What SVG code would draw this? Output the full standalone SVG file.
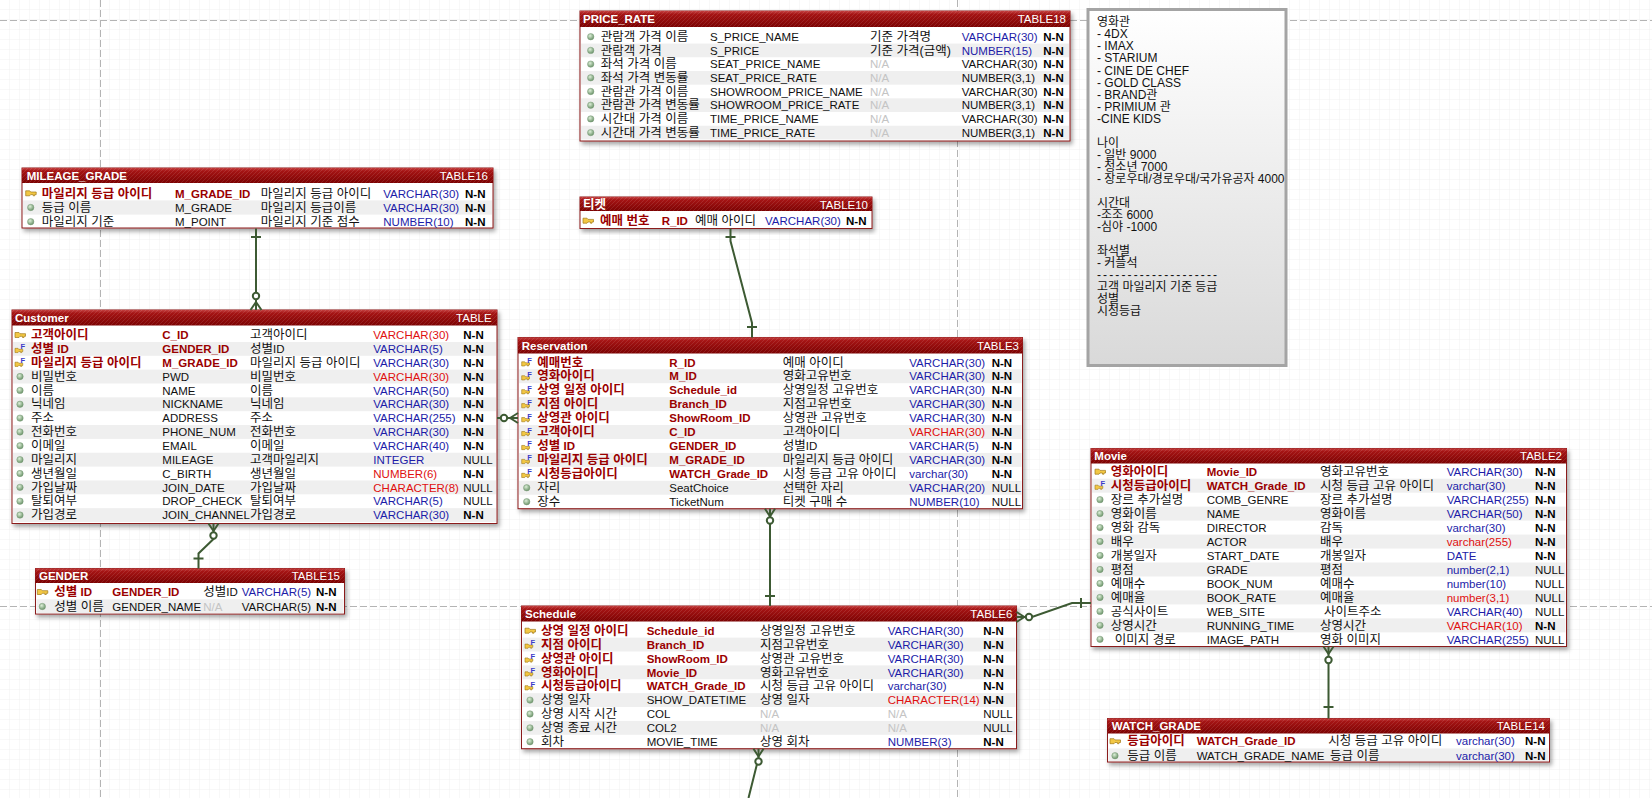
<svg xmlns="http://www.w3.org/2000/svg" width="1652" height="798" viewBox="0 0 1652 798">
<style>
text { font-family: "Liberation Sans", "Noto Sans CJK KR", sans-serif; font-size: 11.5px; fill: #111; }
.h { font-size: 12.5px; }
.ttl { font-weight: bold; fill: #fff; }
.tno { fill: #fff; text-anchor: end; }
.k { font-weight: bold; fill: #9a0000; }
.b { fill: #1c1ca8; }
.r { fill: #e01010; }
.na { fill: #c4c4c4; }
.nn { font-weight: bold; fill: #000; }
.fkf { font-size: 7.5px; font-weight: bold; fill: #3a3ac8; }
.body { fill: #fff; stroke: #8b1a1a; stroke-width: 1; }
.hdr { fill: url(#hg); }
.hatch { fill: url(#hp); }
.alt { fill: #efefef; }
.note { font-size: 12px; fill: #111; }
.dash { fill: none; stroke: #b4b4b4; stroke-width: 1; stroke-dasharray: 7 3; }
</style>
<defs>
  <pattern id="grid" width="10" height="10" patternUnits="userSpaceOnUse">
    <path d="M10,0 V10 H0" fill="none" stroke="#f1f1f1" stroke-width="1"/>
  </pattern>
  <pattern id="hp" width="4" height="4" patternUnits="userSpaceOnUse">
    <path d="M0,4 L4,0" stroke="#ffffff" stroke-opacity="0.10" stroke-width="1"/>
  </pattern>
  <linearGradient id="hg" x1="0" y1="0" x2="0" y2="1">
    <stop offset="0" stop-color="#c44040"/>
    <stop offset="0.2" stop-color="#a51414"/>
    <stop offset="1" stop-color="#7c0202"/>
  </linearGradient>
  <linearGradient id="ng" x1="0" y1="0" x2="0" y2="1">
    <stop offset="0" stop-color="#ffffff"/>
    <stop offset="1" stop-color="#d9d9d9"/>
  </linearGradient>
  <radialGradient id="dg" cx="40%" cy="35%" r="65%">
    <stop offset="0" stop-color="#dcefd8"/>
    <stop offset="1" stop-color="#6c946a"/>
  </radialGradient>
  <filter id="sh" x="-5%" y="-5%" width="115%" height="125%">
    <feDropShadow dx="2" dy="3" stdDeviation="2" flood-color="#000" flood-opacity="0.35"/>
  </filter>
  <!-- primary key icon -->
  <g id="pk">
    <path d="M-5,-2.5 h4 l1,1.2 h5.5 v2.6 h-1.5 v1.2 h-1.5 v-1.2 h-2.5 l-1,1.2 h-4 z" fill="#f2c744" stroke="#a07818" stroke-width="0.7"/>
  </g>
  <!-- foreign key icon -->
  <g id="fk">
    <path d="M-5,-0.5 h3 l0.8,1 h4 v2.2 h-1 v1 h-1.2 v-1 h-1.8 l-0.8,1 h-3 z" fill="#f2c744" stroke="#a07818" stroke-width="0.6"/>
    <text class="fkf" x="0.5" y="0.5">F</text>
  </g>
  <!-- plain column icon -->
  <circle id="dot" r="3.2" fill="url(#dg)" stroke="#7a9a78" stroke-width="0.5"/>
</defs>

<!-- canvas -->
<rect width="1652" height="798" fill="#fff"/>
<rect width="1652" height="798" fill="url(#grid)"/>
<g id="page-breaks">
  <path class="dash" d="M0,20.5 H1652"/>
  <path class="dash" d="M0,606.5 H1652"/>
  <path class="dash" d="M100.5,0 V798"/>
  <path class="dash" d="M957.5,0 V798"/>
</g>

<!-- PRICE_RATE -->
<g id="price_rate">
  <rect class="body" x="580" y="11" width="490" height="130" filter="url(#sh)"/>
  <rect class="alt" x="581" y="43.55" width="488" height="13.7"/>
  <rect class="alt" x="581" y="70.95" width="488" height="13.7"/>
  <rect class="alt" x="581" y="98.35" width="488" height="13.7"/>
  <rect class="alt" x="581" y="125.75" width="488" height="13.7"/>
  <rect class="hdr" x="580" y="11" width="490" height="16"/>
  <rect class="hatch" x="580" y="11" width="490" height="16"/>
  <text class="ttl" x="583" y="23">PRICE_RATE</text>
  <text class="tno" x="1066" y="23">TABLE18</text>
  <use href="#dot" x="590.7" y="36.7"/><use href="#dot" x="590.7" y="50.4"/><use href="#dot" x="590.7" y="64.1"/><use href="#dot" x="590.7" y="77.8"/>
  <use href="#dot" x="590.7" y="91.5"/><use href="#dot" x="590.7" y="105.2"/><use href="#dot" x="590.7" y="118.9"/><use href="#dot" x="590.7" y="132.6"/>
  <text class="h" x="600.7" y="40.9">관람객 가격 이름</text><text x="710" y="40.9">S_PRICE_NAME</text><text class="h" x="870" y="40.9">기준 가격명</text><text class="b" x="961.7" y="40.9">VARCHAR(30)</text><text class="nn" x="1043.3" y="40.9">N-N</text>
  <text class="h" x="600.7" y="54.6">관람객 가격</text><text x="710" y="54.6">S_PRICE</text><text class="h" x="870" y="54.6">기준 가격(금액)</text><text class="b" x="961.7" y="54.6">NUMBER(15)</text><text class="nn" x="1043.3" y="54.6">N-N</text>
  <text class="h" x="600.7" y="68.3">좌석 가격 이름</text><text x="710" y="68.3">SEAT_PRICE_NAME</text><text class="na" x="870" y="68.3">N/A</text><text x="961.7" y="68.3">VARCHAR(30)</text><text class="nn" x="1043.3" y="68.3">N-N</text>
  <text class="h" x="600.7" y="82">좌석 가격 변동률</text><text x="710" y="82">SEAT_PRICE_RATE</text><text class="na" x="870" y="82">N/A</text><text x="961.7" y="82">NUMBER(3,1)</text><text class="nn" x="1043.3" y="82">N-N</text>
  <text class="h" x="600.7" y="95.7">관람관 가격 이름</text><text x="710" y="95.7">SHOWROOM_PRICE_NAME</text><text class="na" x="870" y="95.7">N/A</text><text x="961.7" y="95.7">VARCHAR(30)</text><text class="nn" x="1043.3" y="95.7">N-N</text>
  <text class="h" x="600.7" y="109.4">관람관 가격 변동률</text><text x="710" y="109.4">SHOWROOM_PRICE_RATE</text><text class="na" x="870" y="109.4">N/A</text><text x="961.7" y="109.4">NUMBER(3,1)</text><text class="nn" x="1043.3" y="109.4">N-N</text>
  <text class="h" x="600.7" y="123.1">시간대 가격 이름</text><text x="710" y="123.1">TIME_PRICE_NAME</text><text class="na" x="870" y="123.1">N/A</text><text x="961.7" y="123.1">VARCHAR(30)</text><text class="nn" x="1043.3" y="123.1">N-N</text>
  <text class="h" x="600.7" y="136.8">시간대 가격 변동률</text><text x="710" y="136.8">TIME_PRICE_RATE</text><text class="na" x="870" y="136.8">N/A</text><text x="961.7" y="136.8">NUMBER(3,1)</text><text class="nn" x="1043.3" y="136.8">N-N</text>
</g>

<!-- memo -->
<g id="note">
  <rect x="1088" y="9.5" width="198" height="356" fill="url(#ng)" stroke="#a4a4a4" stroke-width="3"/>
  <text class="note" x="1097" y="26.3">영화관</text>
  <text class="note" x="1097" y="38.3">- 4DX</text>
  <text class="note" x="1097" y="50.4">- IMAX</text>
  <text class="note" x="1097" y="62.4">- STARIUM</text>
  <text class="note" x="1097" y="74.5">- CINE DE CHEF</text>
  <text class="note" x="1097" y="86.5">- GOLD CLASS</text>
  <text class="note" x="1097" y="98.5">- BRAND관</text>
  <text class="note" x="1097" y="110.6">- PRIMIUM 관</text>
  <text class="note" x="1097" y="122.6">-CINE KIDS</text>
  <text class="note" x="1097" y="146.7">나이</text>
  <text class="note" x="1097" y="158.7">- 일반 9000</text>
  <text class="note" x="1097" y="170.8">- 청소년 7000</text>
  <text class="note" x="1097" y="182.8">- 장로우대/경로우대/국가유공자 4000</text>
  <text class="note" x="1097" y="206.9">시간대</text>
  <text class="note" x="1097" y="218.9">-조조 6000</text>
  <text class="note" x="1097" y="231">-심야 -1000</text>
  <text class="note" x="1097" y="255.1">좌석별</text>
  <text class="note" x="1097" y="267.1">- 커플석</text>
  <text class="note" x="1097" y="279.1" textLength="120" lengthAdjust="spacing">--------------------</text>
  <text class="note" x="1097" y="291.2">고객 마일리지 기준 등급</text>
  <text class="note" x="1097" y="303.2">성별</text>
  <text class="note" x="1097" y="315.3">시청등급</text>
</g>

<!-- MILEAGE_GRADE -->
<g id="mileage_grade">
  <rect class="body" x="22" y="168" width="471" height="60" filter="url(#sh)"/>
  <rect class="alt" x="23" y="200.4" width="469" height="14.2"/>
  <rect class="hdr" x="22" y="168" width="471" height="15"/>
  <rect class="hatch" x="22" y="168" width="471" height="15"/>
  <text class="ttl" x="26.7" y="180">MILEAGE_GRADE</text>
  <text class="tno" x="488" y="180">TABLE16</text>
  <use href="#pk" x="30.7" y="193.3"/><use href="#dot" x="30.7" y="207.5"/><use href="#dot" x="30.7" y="221.7"/>
  <text class="k h" x="41.7" y="197.5">마일리지 등급 아이디</text><text class="k" x="175" y="197.5">M_GRADE_ID</text><text class="h" x="260.7" y="197.5">마일리지 등급 아이디</text><text class="b" x="383.3" y="197.5">VARCHAR(30)</text><text class="nn" x="465" y="197.5">N-N</text>
  <text class="h" x="41.7" y="211.7">등급 이름</text><text x="175" y="211.7">M_GRADE</text><text class="h" x="260.7" y="211.7">마일리지 등급이름</text><text class="b" x="383.3" y="211.7">VARCHAR(30)</text><text class="nn" x="465" y="211.7">N-N</text>
  <text class="h" x="41.7" y="225.9">마일리지 기준</text><text x="175" y="225.9">M_POINT</text><text class="h" x="260.7" y="225.9">마일리지 기준 점수</text><text class="b" x="383.3" y="225.9">NUMBER(10)</text><text class="nn" x="465" y="225.9">N-N</text>
</g>

<!-- 티켓 -->
<g id="ticket">
  <rect class="body" x="580" y="197" width="292" height="31.5" filter="url(#sh)"/>
  <rect class="hdr" x="580" y="197" width="292" height="14"/>
  <rect class="hatch" x="580" y="197" width="292" height="14"/>
  <text class="ttl h" x="583" y="208.5">티켓</text>
  <text class="tno" x="868" y="208.5">TABLE10</text>
  <use href="#pk" x="588" y="220.7"/>
  <text class="k h" x="600" y="224.9">예매 번호</text><text class="k" x="661.7" y="224.9">R_ID</text><text class="h" x="695" y="224.9">예매 아이디</text><text class="b" x="765" y="224.9">VARCHAR(30)</text><text class="nn" x="846" y="224.9">N-N</text>
</g>

<!-- Customer -->
<g id="customer">
  <rect class="body" x="12" y="310" width="485" height="213.5" filter="url(#sh)"/>
  <rect class="alt" x="13" y="341.95" width="483" height="13.85"/>
  <rect class="alt" x="13" y="369.65" width="483" height="13.85"/>
  <rect class="alt" x="13" y="397.35" width="483" height="13.85"/>
  <rect class="alt" x="13" y="425.05" width="483" height="13.85"/>
  <rect class="alt" x="13" y="452.75" width="483" height="13.85"/>
  <rect class="alt" x="13" y="480.45" width="483" height="13.85"/>
  <rect class="alt" x="13" y="508.15" width="483" height="13.85"/>
  <rect class="hdr" x="12" y="310" width="485" height="15.5"/>
  <rect class="hatch" x="12" y="310" width="485" height="15.5"/>
  <text class="ttl" x="15" y="322">Customer</text>
  <text class="tno" x="491.7" y="322">TABLE</text>
  <use href="#pk" x="20" y="335"/><use href="#fk" x="20" y="348.85"/><use href="#fk" x="20" y="362.7"/>
  <use href="#dot" x="20" y="376.55"/><use href="#dot" x="20" y="390.4"/><use href="#dot" x="20" y="404.25"/><use href="#dot" x="20" y="418.1"/>
  <use href="#dot" x="20" y="431.95"/><use href="#dot" x="20" y="445.8"/><use href="#dot" x="20" y="459.65"/><use href="#dot" x="20" y="473.5"/>
  <use href="#dot" x="20" y="487.35"/><use href="#dot" x="20" y="501.2"/><use href="#dot" x="20" y="515.05"/>
  <text class="k h" x="31" y="339.2">고객아이디</text><text class="k" x="162.3" y="339.2">C_ID</text><text class="h" x="250" y="339.2">고객아이디</text><text class="r" x="373.3" y="339.2">VARCHAR(30)</text><text class="nn" x="463.3" y="339.2">N-N</text>
  <text class="k" x="31" y="353.05"><tspan class="h">성별</tspan> ID</text><text class="k" x="162.3" y="353.05">GENDER_ID</text><text x="250" y="353.05"><tspan class="h">성별</tspan>ID</text><text class="b" x="373.3" y="353.05">VARCHAR(5)</text><text class="nn" x="463.3" y="353.05">N-N</text>
  <text class="k h" x="31" y="366.9">마일리지 등급 아이디</text><text class="k" x="162.3" y="366.9">M_GRADE_ID</text><text class="h" x="250" y="366.9">마일리지 등급 아이디</text><text class="b" x="373.3" y="366.9">VARCHAR(30)</text><text class="nn" x="463.3" y="366.9">N-N</text>
  <text class="h" x="31" y="380.75">비밀번호</text><text x="162.3" y="380.75">PWD</text><text class="h" x="250" y="380.75">비밀번호</text><text class="r" x="373.3" y="380.75">VARCHAR(30)</text><text class="nn" x="463.3" y="380.75">N-N</text>
  <text class="h" x="31" y="394.6">이름</text><text x="162.3" y="394.6">NAME</text><text class="h" x="250" y="394.6">이름</text><text class="b" x="373.3" y="394.6">VARCHAR(50)</text><text class="nn" x="463.3" y="394.6">N-N</text>
  <text class="h" x="31" y="408.45">닉네임</text><text x="162.3" y="408.45">NICKNAME</text><text class="h" x="250" y="408.45">닉네임</text><text class="b" x="373.3" y="408.45">VARCHAR(30)</text><text class="nn" x="463.3" y="408.45">N-N</text>
  <text class="h" x="31" y="422.3">주소</text><text x="162.3" y="422.3">ADDRESS</text><text class="h" x="250" y="422.3">주소</text><text class="b" x="373.3" y="422.3">VARCHAR(255)</text><text class="nn" x="463.3" y="422.3">N-N</text>
  <text class="h" x="31" y="436.15">전화번호</text><text x="162.3" y="436.15">PHONE_NUM</text><text class="h" x="250" y="436.15">전화번호</text><text class="b" x="373.3" y="436.15">VARCHAR(30)</text><text class="nn" x="463.3" y="436.15">N-N</text>
  <text class="h" x="31" y="450">이메일</text><text x="162.3" y="450">EMAIL</text><text class="h" x="250" y="450">이메일</text><text class="b" x="373.3" y="450">VARCHAR(40)</text><text class="nn" x="463.3" y="450">N-N</text>
  <text class="h" x="31" y="463.85">마일리지</text><text x="162.3" y="463.85">MILEAGE</text><text class="h" x="250" y="463.85">고객마일리지</text><text class="b" x="373.3" y="463.85">INTEGER</text><text x="463.3" y="463.85">NULL</text>
  <text class="h" x="31" y="477.7">생년월일</text><text x="162.3" y="477.7">C_BIRTH</text><text class="h" x="250" y="477.7">생년월일</text><text class="r" x="373.3" y="477.7">NUMBER(6)</text><text class="nn" x="463.3" y="477.7">N-N</text>
  <text class="h" x="31" y="491.55">가입날짜</text><text x="162.3" y="491.55">JOIN_DATE</text><text class="h" x="250" y="491.55">가입날짜</text><text class="r" x="373.3" y="491.55">CHARACTER(8)</text><text x="463.3" y="491.55">NULL</text>
  <text class="h" x="31" y="505.4">탈퇴여부</text><text x="162.3" y="505.4">DROP_CHECK</text><text class="h" x="250" y="505.4">탈퇴여부</text><text class="b" x="373.3" y="505.4">VARCHAR(5)</text><text x="463.3" y="505.4">NULL</text>
  <text class="h" x="31" y="519.25">가입경로</text><text x="162.3" y="519.25">JOIN_CHANNEL</text><text class="h" x="250" y="519.25">가입경로</text><text class="b" x="373.3" y="519.25">VARCHAR(30)</text><text class="nn" x="463.3" y="519.25">N-N</text>
</g>

<!-- Reservation -->
<g id="reservation">
  <rect class="body" x="518" y="337.5" width="504.5" height="171.2" filter="url(#sh)"/>
  <rect class="alt" x="519" y="369.27" width="502.5" height="13.94"/>
  <rect class="alt" x="519" y="397.15" width="502.5" height="13.94"/>
  <rect class="alt" x="519" y="425.03" width="502.5" height="13.94"/>
  <rect class="alt" x="519" y="452.91" width="502.5" height="13.94"/>
  <rect class="alt" x="519" y="480.79" width="502.5" height="13.94"/>
  <rect class="hdr" x="518" y="337.5" width="504.5" height="16"/>
  <rect class="hatch" x="518" y="337.5" width="504.5" height="16"/>
  <text class="ttl" x="521.7" y="349.5">Reservation</text>
  <text class="tno" x="1019" y="349.5">TABLE3</text>
  <use href="#fk" x="526.7" y="362.3"/><use href="#fk" x="526.7" y="376.24"/><use href="#fk" x="526.7" y="390.18"/><use href="#fk" x="526.7" y="404.12"/>
  <use href="#fk" x="526.7" y="418.06"/><use href="#fk" x="526.7" y="432"/><use href="#fk" x="526.7" y="445.94"/><use href="#fk" x="526.7" y="459.88"/>
  <use href="#fk" x="526.7" y="473.82"/><use href="#dot" x="526.7" y="487.76"/><use href="#dot" x="526.7" y="501.7"/>
  <text class="k h" x="537.3" y="366.5">예매번호</text><text class="k" x="669.3" y="366.5">R_ID</text><text class="h" x="782.7" y="366.5">예매 아이디</text><text class="b" x="909.3" y="366.5">VARCHAR(30)</text><text class="nn" x="991.7" y="366.5">N-N</text>
  <text class="k h" x="537.3" y="380.44">영화아이디</text><text class="k" x="669.3" y="380.44">M_ID</text><text class="h" x="782.7" y="380.44">영화고유번호</text><text class="b" x="909.3" y="380.44">VARCHAR(30)</text><text class="nn" x="991.7" y="380.44">N-N</text>
  <text class="k h" x="537.3" y="394.38">상영 일정 아이디</text><text class="k" x="669.3" y="394.38">Schedule_id</text><text class="h" x="782.7" y="394.38">상영일정 고유번호</text><text class="b" x="909.3" y="394.38">VARCHAR(30)</text><text class="nn" x="991.7" y="394.38">N-N</text>
  <text class="k h" x="537.3" y="408.32">지점 아이디</text><text class="k" x="669.3" y="408.32">Branch_ID</text><text class="h" x="782.7" y="408.32">지점고유번호</text><text class="b" x="909.3" y="408.32">VARCHAR(30)</text><text class="nn" x="991.7" y="408.32">N-N</text>
  <text class="k h" x="537.3" y="422.26">상영관 아이디</text><text class="k" x="669.3" y="422.26">ShowRoom_ID</text><text class="h" x="782.7" y="422.26">상영관 고유번호</text><text class="b" x="909.3" y="422.26">VARCHAR(30)</text><text class="nn" x="991.7" y="422.26">N-N</text>
  <text class="k h" x="537.3" y="436.2">고객아이디</text><text class="k" x="669.3" y="436.2">C_ID</text><text class="h" x="782.7" y="436.2">고객아이디</text><text class="r" x="909.3" y="436.2">VARCHAR(30)</text><text class="nn" x="991.7" y="436.2">N-N</text>
  <text class="k" x="537.3" y="450.14"><tspan class="h">성별</tspan> ID</text><text class="k" x="669.3" y="450.14">GENDER_ID</text><text x="782.7" y="450.14"><tspan class="h">성별</tspan>ID</text><text class="b" x="909.3" y="450.14">VARCHAR(5)</text><text class="nn" x="991.7" y="450.14">N-N</text>
  <text class="k h" x="537.3" y="464.08">마일리지 등급 아이디</text><text class="k" x="669.3" y="464.08">M_GRADE_ID</text><text class="h" x="782.7" y="464.08">마일리지 등급 아이디</text><text class="b" x="909.3" y="464.08">VARCHAR(30)</text><text class="nn" x="991.7" y="464.08">N-N</text>
  <text class="k h" x="537.3" y="478.02">시청등급아이디</text><text class="k" x="669.3" y="478.02">WATCH_Grade_ID</text><text class="h" x="782.7" y="478.02">시청 등급 고유 아이디</text><text class="b" x="909.3" y="478.02">varchar(30)</text><text class="nn" x="991.7" y="478.02">N-N</text>
  <text class="h" x="537.3" y="491.96">자리</text><text x="669.3" y="491.96">SeatChoice</text><text class="h" x="782.7" y="491.96">선택한 자리</text><text class="b" x="909.3" y="491.96">VARCHAR(20)</text><text x="991.7" y="491.96">NULL</text>
  <text class="h" x="537.3" y="505.9">장수</text><text x="669.3" y="505.9">TicketNum</text><text class="h" x="782.7" y="505.9">티켓 구매 수</text><text class="b" x="909.3" y="505.9">NUMBER(10)</text><text x="991.7" y="505.9">NULL</text>
</g>

<!-- Movie -->
<g id="movie">
  <rect class="body" x="1091" y="448.5" width="475.5" height="198" filter="url(#sh)"/>
  <rect class="alt" x="1092" y="478.69" width="473.5" height="13.97"/>
  <rect class="alt" x="1092" y="506.63" width="473.5" height="13.97"/>
  <rect class="alt" x="1092" y="534.57" width="473.5" height="13.97"/>
  <rect class="alt" x="1092" y="562.51" width="473.5" height="13.97"/>
  <rect class="alt" x="1092" y="590.45" width="473.5" height="13.97"/>
  <rect class="alt" x="1092" y="618.39" width="473.5" height="13.97"/>
  <rect class="hdr" x="1091" y="448.5" width="475.5" height="15"/>
  <rect class="hatch" x="1091" y="448.5" width="475.5" height="15"/>
  <text class="ttl" x="1094.3" y="460">Movie</text>
  <text class="tno" x="1562" y="460">TABLE2</text>
  <use href="#pk" x="1100" y="471.7"/><use href="#fk" x="1100" y="485.67"/>
  <use href="#dot" x="1100" y="499.64"/><use href="#dot" x="1100" y="513.61"/><use href="#dot" x="1100" y="527.58"/><use href="#dot" x="1100" y="541.55"/>
  <use href="#dot" x="1100" y="555.52"/><use href="#dot" x="1100" y="569.49"/><use href="#dot" x="1100" y="583.46"/><use href="#dot" x="1100" y="597.43"/>
  <use href="#dot" x="1100" y="611.4"/><use href="#dot" x="1100" y="625.37"/><use href="#dot" x="1100" y="639.34"/>
  <text class="k h" x="1110.7" y="475.9">영화아이디</text><text class="k" x="1206.7" y="475.9">Movie_ID</text><text class="h" x="1320" y="475.9">영화고유번호</text><text class="b" x="1446.7" y="475.9">VARCHAR(30)</text><text class="nn" x="1535" y="475.9">N-N</text>
  <text class="k h" x="1110.7" y="489.87">시청등급아이디</text><text class="k" x="1206.7" y="489.87">WATCH_Grade_ID</text><text class="h" x="1320" y="489.87">시청 등급 고유 아이디</text><text class="b" x="1446.7" y="489.87">varchar(30)</text><text class="nn" x="1535" y="489.87">N-N</text>
  <text class="h" x="1110.7" y="503.84">장르 추가설명</text><text x="1206.7" y="503.84">COMB_GENRE</text><text class="h" x="1320" y="503.84">장르 추가설명</text><text class="b" x="1446.7" y="503.84">VARCHAR(255)</text><text class="nn" x="1535" y="503.84">N-N</text>
  <text class="h" x="1110.7" y="517.81">영화이름</text><text x="1206.7" y="517.81">NAME</text><text class="h" x="1320" y="517.81">영화이름</text><text class="b" x="1446.7" y="517.81">VARCHAR(50)</text><text class="nn" x="1535" y="517.81">N-N</text>
  <text class="h" x="1110.7" y="531.78">영화 감독</text><text x="1206.7" y="531.78">DIRECTOR</text><text class="h" x="1320" y="531.78">감독</text><text class="b" x="1446.7" y="531.78">varchar(30)</text><text class="nn" x="1535" y="531.78">N-N</text>
  <text class="h" x="1110.7" y="545.75">배우</text><text x="1206.7" y="545.75">ACTOR</text><text class="h" x="1320" y="545.75">배우</text><text class="r" x="1446.7" y="545.75">varchar(255)</text><text class="nn" x="1535" y="545.75">N-N</text>
  <text class="h" x="1110.7" y="559.72">개봉일자</text><text x="1206.7" y="559.72">START_DATE</text><text class="h" x="1320" y="559.72">개봉일자</text><text class="b" x="1446.7" y="559.72">DATE</text><text class="nn" x="1535" y="559.72">N-N</text>
  <text class="h" x="1110.7" y="573.69">평점</text><text x="1206.7" y="573.69">GRADE</text><text class="h" x="1320" y="573.69">평점</text><text class="b" x="1446.7" y="573.69">number(2,1)</text><text x="1535" y="573.69">NULL</text>
  <text class="h" x="1110.7" y="587.66">예매수</text><text x="1206.7" y="587.66">BOOK_NUM</text><text class="h" x="1320" y="587.66">예매수</text><text class="b" x="1446.7" y="587.66">number(10)</text><text x="1535" y="587.66">NULL</text>
  <text class="h" x="1110.7" y="601.63">예매율</text><text x="1206.7" y="601.63">BOOK_RATE</text><text class="h" x="1320" y="601.63">예매율</text><text class="r" x="1446.7" y="601.63">number(3,1)</text><text x="1535" y="601.63">NULL</text>
  <text class="h" x="1110.7" y="615.6">공식사이트</text><text x="1206.7" y="615.6">WEB_SITE</text><text class="h" x="1324" y="615.6">사이트주소</text><text class="b" x="1446.7" y="615.6">VARCHAR(40)</text><text x="1535" y="615.6">NULL</text>
  <text class="h" x="1110.7" y="629.57">상영시간</text><text x="1206.7" y="629.57">RUNNING_TIME</text><text class="h" x="1320" y="629.57">상영시간</text><text class="r" x="1446.7" y="629.57">VARCHAR(10)</text><text class="nn" x="1535" y="629.57">N-N</text>
  <text class="h" x="1114.7" y="643.54">이미지 경로</text><text x="1206.7" y="643.54">IMAGE_PATH</text><text class="h" x="1320" y="643.54">영화 이미지</text><text class="b" x="1446.7" y="643.54">VARCHAR(255)</text><text x="1535" y="643.54">NULL</text>
</g>

<!-- GENDER -->
<g id="gender">
  <rect class="body" x="35.5" y="568.5" width="309" height="45.5" filter="url(#sh)"/>
  <rect class="alt" x="36.5" y="599.25" width="307" height="14"/>
  <rect class="hdr" x="35.5" y="568.5" width="309" height="14.5"/>
  <rect class="hatch" x="35.5" y="568.5" width="309" height="14.5"/>
  <text class="ttl" x="39" y="580">GENDER</text>
  <text class="tno" x="340" y="580">TABLE15</text>
  <use href="#pk" x="42.3" y="592"/><use href="#dot" x="42.3" y="606.5"/>
  <text class="k" x="54.3" y="596.2"><tspan class="h">성별</tspan> ID</text><text class="k" x="112.3" y="596.2">GENDER_ID</text><text x="203.3" y="596.2"><tspan class="h">성별</tspan>ID</text><text class="b" x="241.7" y="596.2">VARCHAR(5)</text><text class="nn" x="316" y="596.2">N-N</text>
  <text class="h" x="54.3" y="610.7">성별 이름</text><text x="112.3" y="610.7">GENDER_NAME</text><text class="na" x="203.3" y="610.7">N/A</text><text x="241.7" y="610.7">VARCHAR(5)</text><text class="nn" x="316" y="610.7">N-N</text>
</g>

<!-- Schedule -->
<g id="schedule">
  <rect class="body" x="521.5" y="606" width="495" height="142.7" filter="url(#sh)"/>
  <rect class="alt" x="522.5" y="637.64" width="493" height="13.88"/>
  <rect class="alt" x="522.5" y="665.4" width="493" height="13.88"/>
  <rect class="alt" x="522.5" y="693.16" width="493" height="13.88"/>
  <rect class="alt" x="522.5" y="720.92" width="493" height="13.88"/>
  <rect class="hdr" x="521.5" y="606" width="495" height="15.5"/>
  <rect class="hatch" x="521.5" y="606" width="495" height="15.5"/>
  <text class="ttl" x="525" y="618">Schedule</text>
  <text class="tno" x="1012.3" y="618">TABLE6</text>
  <use href="#pk" x="530" y="630.7"/><use href="#fk" x="530" y="644.58"/><use href="#fk" x="530" y="658.46"/><use href="#fk" x="530" y="672.34"/>
  <use href="#fk" x="530" y="686.22"/><use href="#dot" x="530" y="700.1"/><use href="#dot" x="530" y="713.98"/><use href="#dot" x="530" y="727.86"/><use href="#dot" x="530" y="741.74"/>
  <text class="k h" x="541" y="634.9">상영 일정 아이디</text><text class="k" x="646.7" y="634.9">Schedule_id</text><text class="h" x="760" y="634.9">상영일정 고유번호</text><text class="b" x="887.7" y="634.9">VARCHAR(30)</text><text class="nn" x="983.3" y="634.9">N-N</text>
  <text class="k h" x="541" y="648.78">지점 아이디</text><text class="k" x="646.7" y="648.78">Branch_ID</text><text class="h" x="760" y="648.78">지점고유번호</text><text class="b" x="887.7" y="648.78">VARCHAR(30)</text><text class="nn" x="983.3" y="648.78">N-N</text>
  <text class="k h" x="541" y="662.66">상영관 아이디</text><text class="k" x="646.7" y="662.66">ShowRoom_ID</text><text class="h" x="760" y="662.66">상영관 고유번호</text><text class="b" x="887.7" y="662.66">VARCHAR(30)</text><text class="nn" x="983.3" y="662.66">N-N</text>
  <text class="k h" x="541" y="676.54">영화아이디</text><text class="k" x="646.7" y="676.54">Movie_ID</text><text class="h" x="760" y="676.54">영화고유번호</text><text class="b" x="887.7" y="676.54">VARCHAR(30)</text><text class="nn" x="983.3" y="676.54">N-N</text>
  <text class="k h" x="541" y="690.42">시청등급아이디</text><text class="k" x="646.7" y="690.42">WATCH_Grade_ID</text><text class="h" x="760" y="690.42">시청 등급 고유 아이디</text><text class="b" x="887.7" y="690.42">varchar(30)</text><text class="nn" x="983.3" y="690.42">N-N</text>
  <text class="h" x="541" y="704.3">상영 일자</text><text x="646.7" y="704.3">SHOW_DATETIME</text><text class="h" x="760" y="704.3">상영 일자</text><text class="r" x="887.7" y="704.3">CHARACTER(14)</text><text class="nn" x="983.3" y="704.3">N-N</text>
  <text class="h" x="541" y="718.18">상영 시작 시간</text><text x="646.7" y="718.18">COL</text><text class="na" x="760" y="718.18">N/A</text><text class="na" x="887.7" y="718.18">N/A</text><text x="983.3" y="718.18">NULL</text>
  <text class="h" x="541" y="732.06">상영 종료 시간</text><text x="646.7" y="732.06">COL2</text><text class="na" x="760" y="732.06">N/A</text><text class="na" x="887.7" y="732.06">N/A</text><text x="983.3" y="732.06">NULL</text>
  <text class="h" x="541" y="745.94">회차</text><text x="646.7" y="745.94">MOVIE_TIME</text><text class="h" x="760" y="745.94">상영 회차</text><text class="b" x="887.7" y="745.94">NUMBER(3)</text><text class="nn" x="983.3" y="745.94">N-N</text>
</g>

<!-- WATCH_GRADE -->
<g id="watch_grade">
  <rect class="body" x="1107.5" y="718.5" width="442" height="43.5" filter="url(#sh)"/>
  <rect class="alt" x="1108.5" y="748.45" width="440" height="12.5"/>
  <rect class="hdr" x="1107.5" y="718.5" width="442" height="15"/>
  <rect class="hatch" x="1107.5" y="718.5" width="442" height="15"/>
  <text class="ttl" x="1111.7" y="730">WATCH_GRADE</text>
  <text class="tno" x="1545" y="730">TABLE14</text>
  <use href="#pk" x="1115" y="741.2"/><use href="#dot" x="1115" y="755.7"/>
  <text class="k h" x="1127.3" y="745.4">등급아이디</text><text class="k" x="1196.7" y="745.4">WATCH_Grade_ID</text><text class="h" x="1328.3" y="745.4">시청 등급 고유 아이디</text><text class="b" x="1456" y="745.4">varchar(30)</text><text class="nn" x="1525" y="745.4">N-N</text>
  <text class="h" x="1127.3" y="759.9">등급 이름</text><text x="1196.7" y="759.9">WATCH_GRADE_NAME</text><text class="h" x="1330" y="759.9">등급 이름</text><text class="b" x="1456" y="759.9">varchar(30)</text><text class="nn" x="1525" y="759.9">N-N</text>
</g>

<!-- relationships -->
<g id="connectors" fill="none" stroke="#3d5a33" stroke-width="2">
  <!-- MILEAGE_GRADE 1 : n Customer -->
  <path d="M256,228.5 V310"/>
  <path d="M251,237 H261"/>
  <path d="M256,302 L250.5,310 M256,302 L261.5,310"/>
  <circle cx="256" cy="296" r="3.2" fill="#fff"/>
  <!-- 티켓 1 : 1 Reservation -->
  <path d="M730.5,228.5 V241 L752,323 V337.5"/>
  <path d="M725.5,237 H735.5 M747,327 H757"/>
  <!-- Customer 1 : n Reservation -->
  <path d="M497,418 H518"/>
  <path d="M510,418 L518,413 M510,418 L518,423"/>
  <circle cx="504" cy="418" r="3.2" fill="#fff"/>
  <!-- GENDER 1 : n Customer -->
  <path d="M213.5,523.5 V539 L198.5,553.5 V568.5"/>
  <path d="M213.5,531 L208.5,523.5 M213.5,531 L218.5,523.5"/>
  <circle cx="213.5" cy="535.5" r="3.2" fill="#fff"/>
  <path d="M193.5,558.5 H203.5"/>
  <!-- Schedule 1 : n Reservation -->
  <path d="M770,508.7 V606"/>
  <path d="M770,516.5 L765,508.7 M770,516.5 L775,508.7"/>
  <circle cx="770" cy="520.5" r="3.2" fill="#fff"/>
  <path d="M765,596 H775"/>
  <!-- Schedule n : off-page -->
  <path d="M758.5,748.7 V758 L748.5,798"/>
  <path d="M758.5,756.5 L753.5,748.7 M758.5,756.5 L763.5,748.7"/>
  <circle cx="758.5" cy="761.5" r="3.2" fill="#fff"/>
  <!-- Movie 1 : n Schedule -->
  <path d="M1016.5,617 H1032 L1072,603 H1091"/>
  <path d="M1024.5,617 L1016.5,612 M1024.5,617 L1016.5,622"/>
  <circle cx="1029" cy="617" r="3.2" fill="#fff"/>
  <path d="M1081,598 V608"/>
  <!-- WATCH_GRADE 1 : n Movie -->
  <path d="M1328.5,646.5 V718.5"/>
  <path d="M1328.5,654 L1323.5,646.5 M1328.5,654 L1333.5,646.5"/>
  <circle cx="1328.5" cy="660" r="3.2" fill="#fff"/>
  <path d="M1323.5,707 H1333.5"/>
</g>
</svg>
